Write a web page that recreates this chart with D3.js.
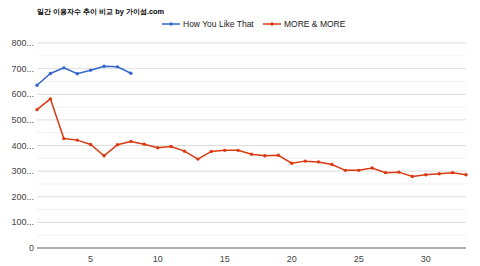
<!DOCTYPE html>
<html>
<head>
<meta charset="utf-8">
<script src="https://cdn.jsdelivr.net/npm/d3@7"></script>
<style>
  body { margin: 0; background: #fff; }
  text { font-family: Arial, "Liberation Sans", sans-serif; }
</style>
</head>
<body>
<svg id="chart" width="480" height="266"></svg>
<script>
// data
var days = d3.range(1, 34);
var howYouLikeThat = [635, 681, 703, 680, 694, 709, 707, 682];
var moreAndMore = [540, 582, 427, 421, 404, 360, 403, 416, 405, 391,
                   396, 378, 347, 377, 381, 381, 366, 360, 362, 331,
                   339, 336, 326, 303, 303, 312, 294, 296, 279, 286,
                   290, 294, 286];
var yTicks = [0, 100, 200, 300, 400, 500, 600, 700, 800];
var xTicks = [5, 10, 15, 20, 25, 30];

var series = [
  {name: "How You Like That", color: "#3366cc", values: howYouLikeThat},
  {name: "MORE & MORE", color: "#dc3912", values: moreAndMore}
];

var svg = d3.select("svg#chart");
var plotL = 37, plotR = 466, plotT = 43, plotB = 248;

var x = d3.scaleLinear().domain([1, 33]).range([plotL, plotR]);
var y = d3.scaleLinear().domain([0, 800]).range([plotB, plotT]);

// minor grid
svg.selectAll("line.minor")
   .data(d3.range(50, 800, 100))
   .enter().append("line")
   .attr("x1", plotL).attr("x2", plotR)
   .attr("y1", function(d) { return y(d); })
   .attr("y2", function(d) { return y(d); })
   .attr("stroke", "#f1f1f1").attr("stroke-width", 1);

// major grid
svg.selectAll("line.major")
   .data(yTicks.slice(1))
   .enter().append("line")
   .attr("x1", plotL).attr("x2", plotR)
   .attr("y1", function(d) { return y(d); })
   .attr("y2", function(d) { return y(d); })
   .attr("stroke", "#dddddd").attr("stroke-width", 1);

// baseline
svg.append("line")
   .attr("x1", plotL).attr("x2", plotR)
   .attr("y1", y(0)).attr("y2", y(0))
   .attr("stroke", "#999").attr("stroke-width", 1.5);

// y labels
svg.selectAll("text.ylab")
   .data(yTicks)
   .enter().append("text")
   .attr("x", 34)
   .attr("y", function(d) { return y(d) + 3; })
   .attr("text-anchor", "end")
   .attr("font-size", 9)
   .attr("fill", "#444")
   .text(function(d) { return d == 0 ? "0" : d + "..."; });

// x labels
svg.selectAll("text.xlab")
   .data(xTicks)
   .enter().append("text")
   .attr("x", function(d) { return x(d); })
   .attr("y", 262)
   .attr("text-anchor", "middle")
   .attr("font-size", 9)
   .attr("fill", "#444")
   .text(function(d) { return d; });

var line = d3.line()
   .x(function(d, i) { return x(days[i]); })
   .y(function(d) { return y(d); });

series.forEach(function(s) {
  svg.append("path")
     .attr("d", line(s.values))
     .attr("fill", "none")
     .attr("stroke", s.color)
     .attr("stroke-width", 1.5);
  svg.selectAll(null)
     .data(s.values)
     .enter().append("circle")
     .attr("cx", function(d, i) { return x(days[i]); })
     .attr("cy", function(d) { return y(d); })
     .attr("r", 1.7)
     .attr("fill", s.color);
});

// title
svg.append("text")
   .attr("x", 37).attr("y", 14)
   .attr("font-family", "'Noto Sans CJK KR', sans-serif")
   .attr("font-size", 7.4)
   .attr("font-weight", "bold")
   .attr("fill", "#000")
   .text("일간 이용자수 추이 비교 by 가이섬.com");

// legend
var legendX = [162, 263];
series.forEach(function(s, i) {
  var g = svg.append("g").attr("transform", "translate(" + legendX[i] + ",24)");
  g.append("line").attr("x1", 0).attr("x2", 18)
   .attr("stroke", s.color).attr("stroke-width", 1.5);
  g.append("circle").attr("cx", 9).attr("r", 1.7).attr("fill", s.color);
  g.append("text").attr("x", 21).attr("y", 3)
   .attr("font-size", 8.5).attr("fill", "#222").text(s.name);
});
</script>
</body>
</html>
